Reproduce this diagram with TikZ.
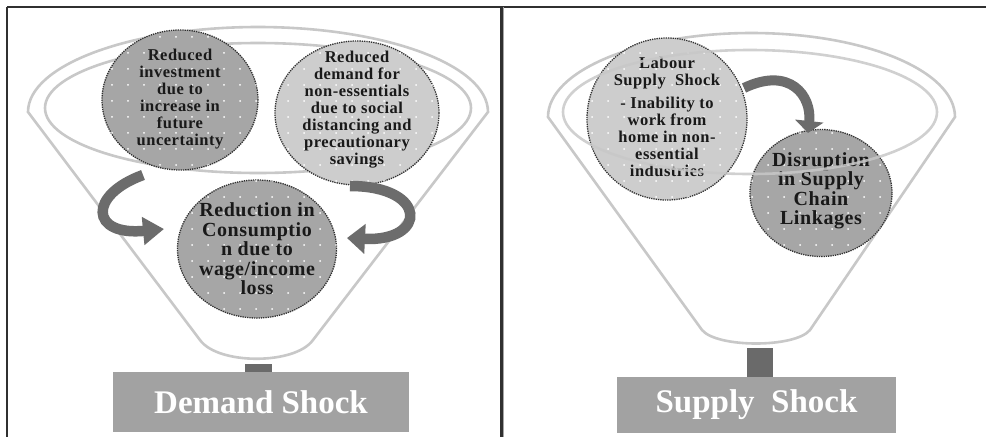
\documentclass[tikz,border=0pt]{standalone}
\usepackage{fontspec}
\setmainfont{Liberation Serif}
\newfontfamily\spacedserif[LetterSpace=3]{Liberation Serif}
\usetikzlibrary{shapes.geometric,patterns.meta,arrows.meta}
\definecolor{funnelc}{HTML}{C8C8C8}
\definecolor{darkbub}{HTML}{A6A6A6}
\definecolor{lightbub}{HTML}{CDCDCD}
\definecolor{bubedge}{HTML}{303030}
\definecolor{barc}{HTML}{A2A2A2}
\definecolor{stemc}{HTML}{6A6A6A}
\definecolor{arrowc}{HTML}{6C6C6C}
\definecolor{framec}{HTML}{303030}
\tikzset{
  frameline/.style={draw=framec, line width=1.6pt},
  funnelline/.style={draw=funnelc, line width=2.6pt},
  bubble/.style={ellipse, draw=bubedge, densely dotted, line width=1.3pt, inner sep=0pt,
    postaction={pattern={Dots[distance=16pt,radius=1pt]}, pattern color=white}},
  darkbubble/.style={bubble, fill=darkbub},
  lightbubble/.style={bubble, fill=lightbub},
  smalltext/.style={align=center, text=black!90, font=\spacedserif\bfseries\fontsize{16.5}{17}\selectfont},
  bigtext/.style={align=center, text=black!90, font=\spacedserif\bfseries\fontsize{20}{19.5}\selectfont},
  barbox/.style={fill=barc, draw=none, inner sep=0pt},
  bartext/.style={text=white, font=\bfseries\fontsize{33}{36}\selectfont},
  stembox/.style={fill=stemc, draw=none, inner sep=0pt},
  blockarrow/.style={draw=arrowc, line width=10.5pt, line cap=butt}
}
\begin{document}
\begin{tikzpicture}[x=1pt,y=-1pt]
\useasboundingbox (0,0) rectangle (986,437);
\fill[white] (0,0) rectangle (986,437);

% frame
\draw[frameline] (7,7) -- (986,7);
\draw[frameline] (7,7) -- (7,437);
\draw[draw=framec, line width=3pt] (501,7) -- (501,437);
\draw[draw=black!35, line width=1pt] (503.8,7) -- (503.8,437);

% ===== left panel =====
\draw[funnelline] (28,112) arc[start angle=180,end angle=360,x radius=230,y radius=85]
  -- (313,340) .. controls (295,365) and (218,365) .. (200,340) -- cycle;
\draw[funnelline] (258,108) ellipse[x radius=213,y radius=65];

\node[stembox, minimum width=27pt, minimum height=9pt] (ls) at (258.5,368) {};
\node[barbox, minimum width=296pt, minimum height=60pt] (lb) at (261,402) {};
\node[bartext] (lbt) at (lb) {Demand Shock};

\node[darkbubble, minimum width=156pt, minimum height=140pt] (c1) at (180,100) {};
\node[smalltext] (c1t) at (180,99) {Reduced\\investment\\due to\\increase in\\future\\uncertainty};

\node[lightbubble, minimum width=164pt, minimum height=144pt] (c2) at (357,113) {};
\node[smalltext] (c2t) at (357,110) {Reduced\\demand for\\non-essentials\\due to social\\distancing and\\precautionary\\savings};

\node[darkbubble, minimum width=159pt, minimum height=138pt] (c3) at (257,249) {};
\node[bigtext] (c3t) at (257,249) {Reduction in\\Consumptio\\n due to\\wage/income\\loss};

\coordinate (a1s) at (143,175);
\coordinate (a1e) at (164,229);
\draw[blockarrow, -{Triangle[length=21pt,width=27pt]}] (a1s) .. controls (88,195) and (90,236) .. (a1e);
\coordinate (a2s) at (350,186);
\coordinate (a2e) at (347,238);
\draw[blockarrow, -{Triangle[length=18pt,width=29pt]}] (a2s) .. controls (428,186) and (428,242) .. (a2e);

% ===== right panel =====
\draw[funnelline] (548,117) arc[start angle=180,end angle=360,x radius=203.5,y radius=84]
  -- (810,330) .. controls (795,348) and (717,348) .. (702,330) -- cycle;

\node[stembox, minimum width=26pt, minimum height=30pt] (rs) at (760,363) {};
\node[barbox, minimum width=279pt, minimum height=56pt] (rb) at (756.5,405) {};
\node[bartext] (rbt) at (rb) {Supply\ \ Shock};

\node[lightbubble, minimum width=160pt, minimum height=162pt] (c4) at (667,119) {};
\node[smalltext] (c4t) at (667,117) {Labour\\Supply\ \ Shock\\[6pt]- Inability to\\work from\\home in non-\\essential\\industries};

\node[darkbubble, minimum width=142pt, minimum height=127pt] (c5) at (821,193) {};
\node[bigtext] (c5t) at (821,191) {Disruption\\in Supply\\Chain\\Linkages};

\draw[funnelline, draw opacity=0.85] (750,112) ellipse[x radius=187,y radius=62];

\coordinate (a3s) at (744,88);
\coordinate (a3e) at (808,133);
\draw[blockarrow, line width=10pt, -{Triangle[length=12pt,width=28pt]}] (a3s) .. controls (790,66) and (812,96) .. (a3e);
\end{tikzpicture}
\end{document}
